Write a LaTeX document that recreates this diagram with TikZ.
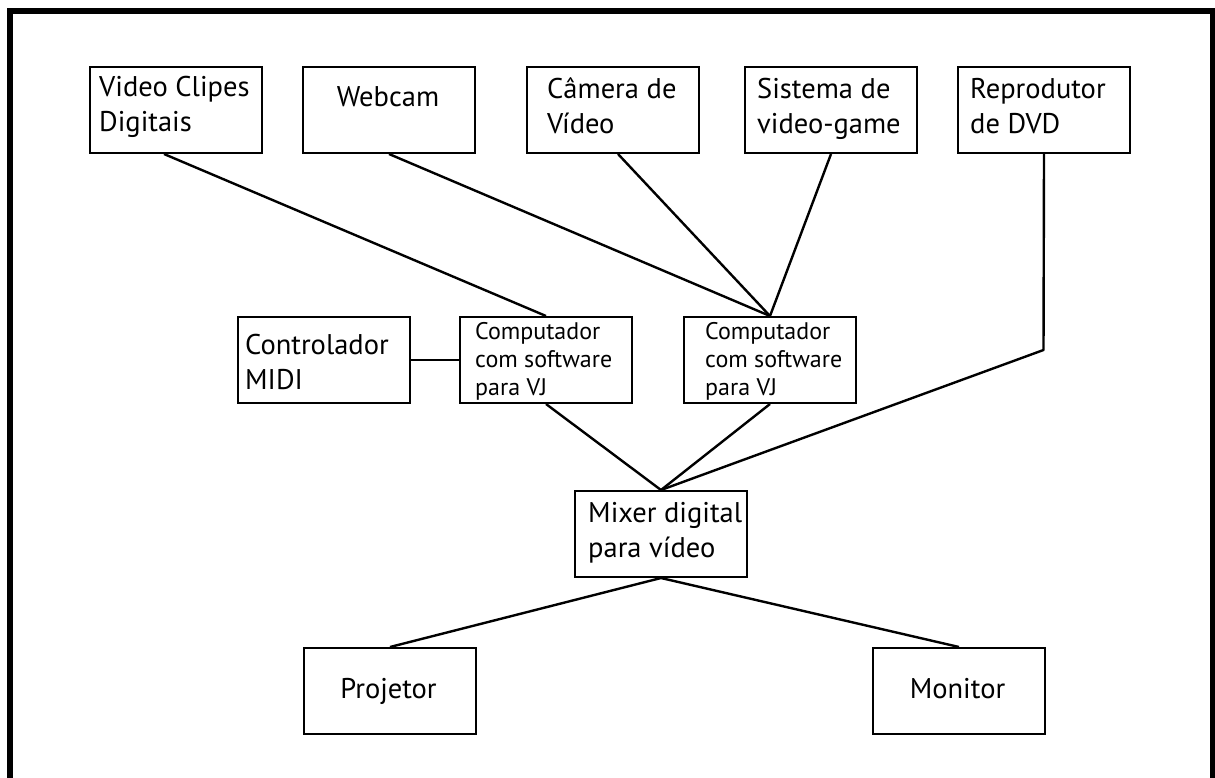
\documentclass[tikz,border=0pt]{standalone}
\usepackage{fontspec}
\setmainfont{PT Sans}
\begin{document}
\begin{tikzpicture}[x=1pt,y=-1pt,
  box/.style={draw, line width=2pt, minimum width=172pt, minimum height=86pt, inner sep=0pt, anchor=north west},
  big/.style={font=\fontsize{28.5}{35}\selectfont, inner sep=0pt, align=left, anchor=base west},
  bigc/.style={font=\fontsize{28.5}{35}\selectfont, inner sep=0pt, anchor=base},
  small/.style={font=\fontsize{24}{28}\selectfont, inner sep=0pt, align=left, anchor=base west},
  wire/.style={line width=2.4pt, line join=round},
  frame/.style={line width=6pt}]
\useasboundingbox (0,0) rectangle (1215,778);
\draw[frame] (10,800) -- (10,11) -- (1213,11) -- (1213,800);

% top row
\node[box] (v) at (89,66) {};
\node[box] (w) at (302,66) {};
\node[box] (cam) at (526,66) {};
\node[box] (sis) at (744,66) {};
\node[box] (dvd) at (957,66) {};
\node[big] (vt) at (99,132) {Video Clipes\\Digitais};
\node[bigc] (wt) at (388,107) {Webcam};
\node[big] (camt) at (547,134) {Câmera de\\Vídeo};
\node[big] (sist) at (757,134) {Sistema de\\video-game};
\node[big] (dvdt) at (970,134) {Reprodutor\\de DVD};

% middle row
\node[box] (midi) at (237,316) {};
\node[box] (c1) at (459,316) {};
\node[box] (c2) at (683,316) {};
\node[big] (midit) at (245,389) {Controlador\\MIDI};
\node[small] (c1t) at (475,395) {Computador\\com software\\para VJ};
\node[small] (c2t) at (705,395) {Computador\\com software\\para VJ};

% mixer and outputs
\node[box] (mix) at (574,490) {};
\node[big] (mixt) at (588,557) {Mixer digital\\para vídeo};
\node[box] (proj) at (303,647) {};
\node[box] (mon) at (872,647) {};
\node[bigc] (projt) at (388.5,698) {Projetor};
\node[bigc] (mont) at (957.5,698) {Monitor};

% connectors
\coordinate (bend) at (1043.5,350);
\draw[wire] ([xshift=-12pt]v.south) -- (c1.north);
\draw[wire] (w.south) -- (c2.north);
\draw[wire] ([xshift=5pt]cam.south) -- (c2.north);
\draw[wire] (sis.south) -- (c2.north);
\draw[wire] (midi.east) -- (c1.west);
\draw[wire] (c1.south) -- (mix.north);
\draw[wire] (c2.south) -- (mix.north);
\draw[wire] (dvd.south) -- (bend) -- (mix.north);
\draw[wire] (mix.south) -- (proj.north);
\draw[wire] (mix.south) -- (mon.north);
\end{tikzpicture}
\end{document}
